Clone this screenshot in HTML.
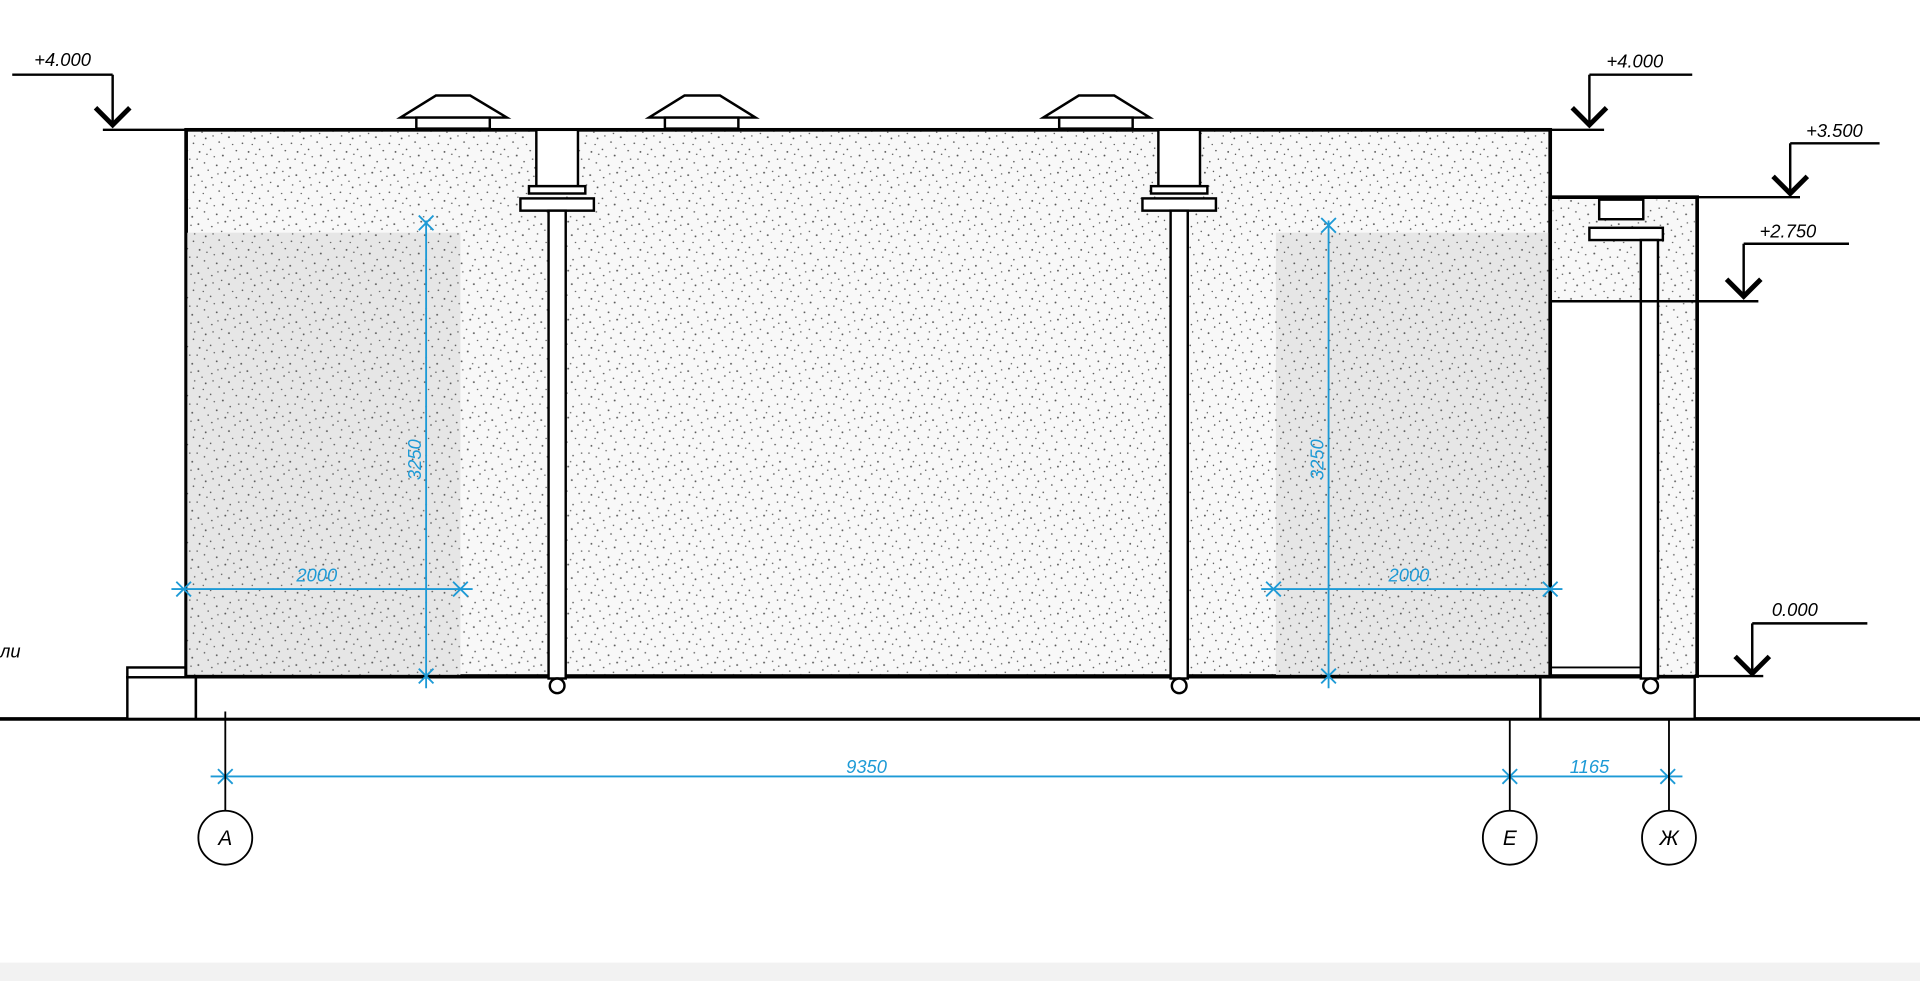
<!DOCTYPE html>
<html><head><meta charset="utf-8"><style>html,body{margin:0;padding:0;background:#fff;}svg{display:block}</style></head>
<body>
<svg width="1920" height="981" viewBox="0 0 1568 801" preserveAspectRatio="none" xmlns="http://www.w3.org/2000/svg" font-family="Liberation Sans, sans-serif" font-style="italic">
<defs>
<g id="dots" fill="#555">
<circle cx="3" cy="4" r=".75"/><circle cx="12" cy="2" r=".65"/><circle cx="22" cy="7" r=".75"/><circle cx="33" cy="3" r=".65"/>
<circle cx="7" cy="13" r=".65"/><circle cx="17" cy="15" r=".75"/><circle cx="28" cy="12" r=".65"/><circle cx="37" cy="17" r=".75"/>
<circle cx="2" cy="23" r=".75"/><circle cx="13" cy="25" r=".65"/><circle cx="24" cy="21" r=".75"/><circle cx="32" cy="27" r=".65"/>
<circle cx="8" cy="33" r=".75"/><circle cx="19" cy="36" r=".65"/><circle cx="27" cy="32" r=".75"/><circle cx="38" cy="37" r=".65"/>
<circle cx="15" cy="8" r=".6"/><circle cx="35" cy="10" r=".6"/><circle cx="5" cy="28" r=".6"/><circle cx="21" cy="29" r=".6"/>
<circle cx="10" cy="19" r=".6"/><circle cx="30" cy="38" r=".6"/><circle cx="26" cy="17" r=".6"/><circle cx="1" cy="10" r=".6"/>
<circle cx="36" cy="24" r=".6"/><circle cx="14" cy="31" r=".6"/><circle cx="23" cy="1" r=".6"/><circle cx="6" cy="38" r=".6"/>
<circle cx="31" cy="20" r=".6"/><circle cx="18" cy="22" r=".6"/><circle cx="39" cy="31" r=".6"/><circle cx="9" cy="6" r=".6"/>
</g>
<pattern id="st" width="40" height="40" patternUnits="userSpaceOnUse">
<rect width="40" height="40" fill="#f8f8f8"/><use href="#dots"/></pattern>
<pattern id="st2" width="40" height="40" patternUnits="userSpaceOnUse">
<rect width="40" height="40" fill="#e6e6e6"/><use href="#dots"/></pattern>
</defs>
<rect width="1568" height="801" fill="#fff"/>
<line x1="0" y1="587" x2="1568" y2="587" stroke="#000" stroke-width="3"/>
<g fill="#fff" stroke="#000" stroke-width="2">
<rect x="104" y="553" width="56" height="34"/>
<rect x="160" y="553" width="1098" height="34"/>
<rect x="1258" y="553" width="126" height="34"/>
<rect x="104" y="545" width="48" height="8"/>
</g>
<rect x="152" y="106" width="1114" height="446" fill="url(#st)" stroke="#000" stroke-width="3"/>
<rect x="153" y="190" width="223" height="361" fill="url(#st2)"/>
<rect x="1042" y="190" width="223" height="361" fill="url(#st2)"/>
<rect x="1266" y="161" width="120" height="391" fill="#fff" stroke="#000" stroke-width="3"/>
<rect x="1268" y="163" width="116" height="83" fill="url(#st)"/>
<rect x="1355" y="246" width="29" height="305" fill="url(#st)"/>
<line x1="1266" y1="246" x2="1340" y2="246" stroke="#000" stroke-width="2"/>
<line x1="1266" y1="545" x2="1340" y2="545" stroke="#000" stroke-width="1.5"/>
<g fill="#fff" stroke="#000" stroke-width="2">
<path d="M327 96 L356 78 L384 78 L414 96 Z"/><rect x="340" y="96" width="60" height="9"/>
<path d="M530 96 L559 78 L588 78 L617 96 Z"/><rect x="543" y="96" width="60" height="9"/>
<path d="M852 96 L881 78 L910 78 L939 96 Z"/><rect x="865" y="96" width="60" height="9"/>
</g>
<g fill="#fff" stroke="#000" stroke-width="2">
<rect x="438" y="106" width="34" height="46"/><rect x="432" y="152" width="46" height="6"/><rect x="425" y="162" width="60" height="10"/>
<rect x="448" y="172" width="14" height="382"/><circle cx="455" cy="560" r="6"/>
<rect x="946" y="106" width="34" height="46"/><rect x="940" y="152" width="46" height="6"/><rect x="933" y="162" width="60" height="10"/>
<rect x="956" y="172" width="14" height="382"/><circle cx="963" cy="560" r="6"/>
<rect x="1306" y="163" width="36" height="16"/><rect x="1298" y="186" width="60" height="10"/>
<rect x="1340" y="196" width="14" height="358"/><circle cx="1348" cy="560" r="6"/>
</g>
<g stroke="#000" stroke-width="2" fill="none">
<line x1="10" y1="61" x2="92" y2="61"/><line x1="92" y1="61" x2="92" y2="103"/><path d="M78 88 L92 102 L106 88" stroke-width="4"/><line x1="84" y1="106" x2="152" y2="106"/>
<line x1="1298" y1="61" x2="1382" y2="61"/><line x1="1298" y1="61" x2="1298" y2="103"/><path d="M1284 88 L1298 102 L1312 88" stroke-width="4"/><line x1="1266" y1="106" x2="1310" y2="106"/>
<line x1="1462" y1="117" x2="1535" y2="117"/><line x1="1462" y1="117" x2="1462" y2="158"/><path d="M1448 144 L1462 158 L1476 144" stroke-width="4"/><line x1="1386" y1="161" x2="1470" y2="161"/>
<line x1="1424" y1="199" x2="1510" y2="199"/><line x1="1424" y1="199" x2="1424" y2="242"/><path d="M1410 228 L1424 242 L1438 228" stroke-width="4"/><line x1="1340" y1="246" x2="1436" y2="246"/>
<line x1="1431" y1="509" x2="1525" y2="509"/><line x1="1431" y1="509" x2="1431" y2="550"/><path d="M1417 536 L1431 550 L1445 536" stroke-width="4"/><line x1="1386" y1="552" x2="1440" y2="552"/>
</g>
<g font-size="15" fill="#000">
<text x="28" y="54">+4.000</text>
<text x="1312" y="55">+4.000</text>
<text x="1475" y="112">+3.500</text>
<text x="1437" y="194">+2.750</text>
<text x="1447" y="503">0.000</text>
<text x="0" y="537">ли</text>
</g>
<g stroke="#1d9ad6" stroke-width="1.5" fill="none">
<line x1="348" y1="180" x2="348" y2="562"/><path d="M342 176l12 12M354 176l-12 12M342 546l12 12M354 546l-12 12"/>
<line x1="140" y1="481" x2="386" y2="481"/><path d="M144 475l12 12M144 487l12-12M370 475l12 12M370 487l12-12"/>
<line x1="1085" y1="180" x2="1085" y2="562"/><path d="M1079 178l12 12M1091 178l-12 12M1079 546l12 12M1091 546l-12 12"/>
<line x1="1030" y1="481" x2="1276" y2="481"/><path d="M1034 475l12 12M1034 487l12-12M1260 475l12 12M1260 487l12-12"/>
<line x1="172" y1="634" x2="1374" y2="634"/><path d="M178 628l12 12M178 640l12-12M1227 628l12 12M1227 640l12-12M1356 628l12 12M1356 640l12-12"/>
</g>
<g fill="#1d9ad6" font-size="15">
<text x="242" y="475">2000</text>
<text x="1134" y="475">2000</text>
<text x="691" y="631">9350</text>
<text x="1282" y="631">1165</text>
<text transform="translate(344,392) rotate(-90)">3250</text>
<text transform="translate(1081,392) rotate(-90)">3250</text>
</g>
<g stroke="#000" stroke-width="1.5" fill="#fff">
<line x1="184" y1="581" x2="184" y2="662"/><line x1="1233" y1="588" x2="1233" y2="662"/><line x1="1363" y1="588" x2="1363" y2="662"/>
<circle cx="184" cy="684" r="22"/><circle cx="1233" cy="684" r="22"/><circle cx="1363" cy="684" r="22"/>
</g>
<g font-size="17" fill="#000" text-anchor="middle">
<text x="184" y="690">А</text><text x="1233" y="690">Е</text><text x="1363" y="690">Ж</text>
</g>
<rect x="0" y="786" width="1568" height="15" fill="#f2f2f2"/>
</svg>
</body></html>
